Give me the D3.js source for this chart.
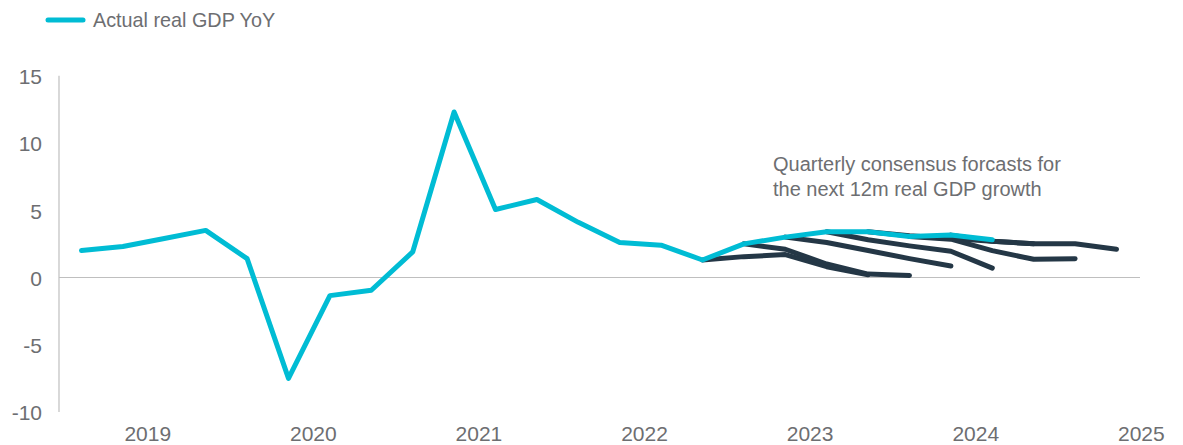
<!DOCTYPE html>
<html>
<head>
<meta charset="utf-8">
<script src="https://cdn.jsdelivr.net/npm/d3@7"></script>
<style>
	body { margin: 0; background: #fff; }
	svg text { font-family: "Liberation Sans", Arial, sans-serif; fill: #6d6e71; }
</style>
</head>
<body>
<svg id="chart" width="1183" height="445"></svg>
<script>
// quarters, Q1 2019 .. Q3 2024
var quarters = ["2019Q1", "2019Q2", "2019Q3", "2019Q4", "2020Q1", "2020Q2", "2020Q3", "2020Q4",
	"2021Q1", "2021Q2", "2021Q3", "2021Q4", "2022Q1", "2022Q2", "2022Q3", "2022Q4",
	"2023Q1", "2023Q2", "2023Q3", "2023Q4", "2024Q1", "2024Q2", "2024Q3"];

var actualGdp = [2.0, 2.3, 2.9, 3.5, 1.4, -7.5, -1.35, -0.95, 1.9, 12.3, 5.05, 5.8,
	4.1, 2.6, 2.4, 1.3, 2.5, 3.0, 3.4, 3.4, 3.05, 3.15, 2.8];

// consensus forecasts: start quarter + path for the next 4 quarters (start point included)
var forecastStarts = ["2022Q4", "2023Q1", "2023Q2", "2023Q3", "2023Q4", "2024Q1", "2024Q2"];
var forecastPaths = [
	[1.3, 1.55, 1.7, 0.8, 0.2],
	[2.5, 2.1, 1.0, 0.25, 0.15],
	[3.0, 2.6, 2.0, 1.4, 0.85],
	[3.4, 2.8, 2.35, 1.95, 0.7],
	[3.4, 3.1, 2.9, 2.7, 2.5],
	[3.05, 2.85, 2.0, 1.35, 1.4],
	[3.15, 2.7, 2.5, 2.5, 2.1]
];

var years = [2019, 2020, 2021, 2022, 2023, 2024, 2025];
var yTicks = [-10, -5, 0, 5, 10, 15];

var legendLabel = "Actual real GDP YoY",
	noteLines = ["Quarterly consensus forcasts for", "the next 12m real GDP growth"];

var cyan = "#00bcd4",
	navy = "#243746",
	grey = "#bfbfbf";

var svg = d3.select("svg#chart");

function qIndex(q) {
	return (+q.slice(0, 4) - 2019) * 4 + (+q.slice(5) - 1);
}

var x = d3.scaleLinear().domain([0, 25]).range([81.5, 1116.5]),
	y = d3.scaleLinear().domain([-10, 15]).range([412, 75.7]);

// year labels sit a bit past the Q2 point of each year
var yearOffset = 1.6;

var line = d3.line()
	.x(function(d) { return x(d.i); })
	.y(function(d) { return y(d.value); });

// y axis line
svg.append("line")
	.attr("x1", 59).attr("x2", 59)
	.attr("y1", y(15)).attr("y2", y(-10))
	.attr("stroke", grey)
	.attr("stroke-width", 1.2);

// zero line
svg.append("line")
	.attr("x1", 59).attr("x2", 1140)
	.attr("y1", y(0)).attr("y2", y(0))
	.attr("stroke", grey)
	.attr("stroke-width", 1.2);

svg.append("g")
	.selectAll("text")
	.data(yTicks)
	.enter().append("text")
	.attr("x", 42)
	.attr("y", function(d) { return y(d); })
	.attr("dy", "0.4em")
	.attr("text-anchor", "end")
	.style("font-size", "21px")
	.text(function(d) { return d; });

svg.append("g")
	.selectAll("text")
	.data(years)
	.enter().append("text")
	.attr("x", function(d) { return x((d - 2019) * 4 + yearOffset); })
	.attr("y", 441)
	.attr("text-anchor", "middle")
	.style("font-size", "21px")
	.text(function(d) { return d; });

// forecast fan
var forecastData = forecastStarts.map(function(s, k) {
	var i0 = qIndex(s);
	return forecastPaths[k].map(function(v, j) { return {i: i0 + j, value: v}; });
});

svg.append("g")
	.selectAll("path")
	.data(forecastData)
	.enter().append("path")
	.attr("d", line)
	.attr("fill", "none")
	.attr("stroke", navy)
	.attr("stroke-width", 5)
	.attr("stroke-linejoin", "round")
	.attr("stroke-linecap", "round");

// actual
var actualData = actualGdp.map(function(v, i) { return {i: qIndex(quarters[i]), value: v}; });

svg.append("path")
	.datum(actualData)
	.attr("d", line)
	.attr("fill", "none")
	.attr("stroke", cyan)
	.attr("stroke-width", 5)
	.attr("stroke-linejoin", "round")
	.attr("stroke-linecap", "round");

// legend
svg.append("line")
	.attr("x1", 48).attr("x2", 83)
	.attr("y1", 20).attr("y2", 20)
	.attr("stroke", cyan)
	.attr("stroke-width", 5)
	.attr("stroke-linecap", "round");

svg.append("text")
	.attr("x", 93)
	.attr("y", 27)
	.style("font-size", "19.8px")
	.text(legendLabel);

svg.append("g")
	.selectAll("text")
	.data(noteLines)
	.enter().append("text")
	.attr("x", 773)
	.attr("y", function(d, i) { return 171 + i * 25; })
	.style("font-size", "20px")
	.text(function(d) { return d; });
</script>
</body>
</html>
